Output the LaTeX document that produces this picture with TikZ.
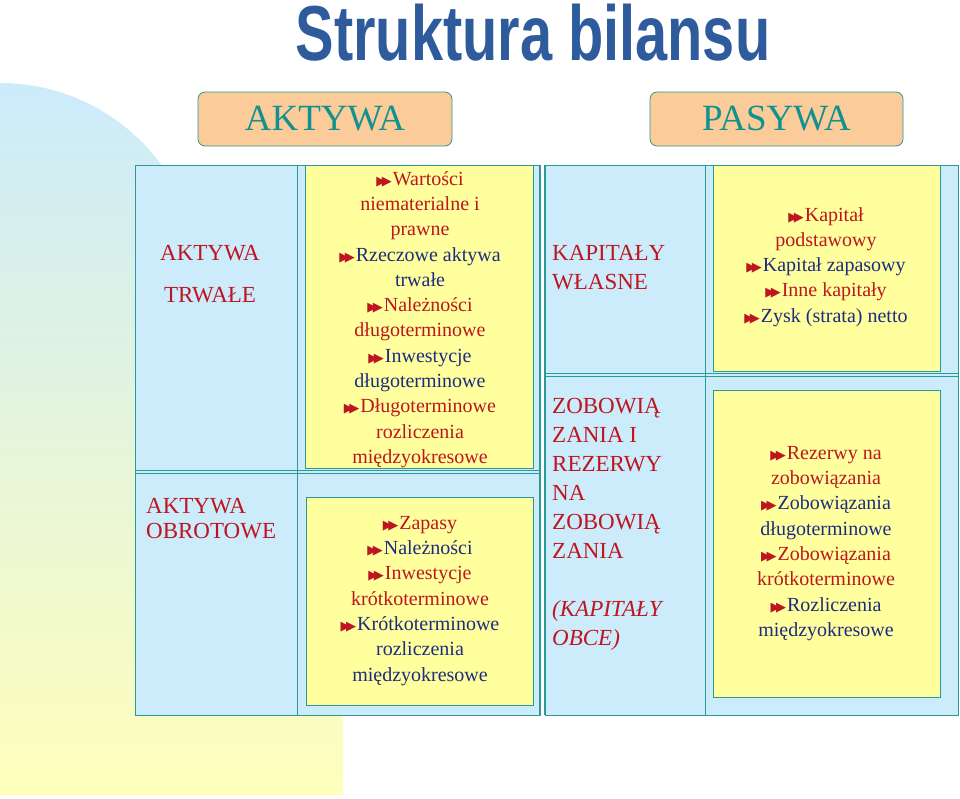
\documentclass[tikz,border=0pt]{standalone}
\usepackage{fontspec}
\setmainfont{Liberation Serif}
\newfontfamily\titlefont{Liberation Sans}
\newfontfamily\dejavu{DejaVu Sans}
\definecolor{tred}{HTML}{BE1620}
\definecolor{tblue}{HTML}{1C2C7E}
\definecolor{teal}{HTML}{2A9A94}
\definecolor{lblue}{HTML}{CCEBFB}
\definecolor{lyel}{HTML}{FFFF9E}
\definecolor{peach}{HTML}{FBCB99}
\definecolor{tgreen}{HTML}{12928E}
\definecolor{ttl}{HTML}{2E5B9C}
\newcommand{\bl}{{\color{tred}\dejavu\fontsize{13}{13}\selectfont ▶\kern-4.5pt▶\kern1pt}}
\newcommand{\R}{\color{tred}}
\newcommand{\B}{\color{tblue}}
\begin{document}
\begin{tikzpicture}[x=1pt,y=-1pt,
  cell/.style={draw=teal,line width=1pt,fill=lblue},
  ybox/.style={draw=teal,line width=1pt,fill=lyel},
  hdr/.style={draw=teal,line width=0.8pt,fill=peach,rounded corners=7pt},
  items/.style={align=center,inner sep=0pt,anchor=north,font=\fontsize{20}{25.3}\selectfont},
  lab/.style={align=left,inner sep=0pt,anchor=north west,text=tred,font=\fontsize{23}{29}\selectfont}]
\useasboundingbox (0,0) rectangle (960,798);
\shade[top color=lblue,bottom color=lyel!70]
  (0,795) -- (0,83) arc[start angle=270,end angle=360,radius=200] -- (343,283) -- (343,795) -- cycle;
\node[inner sep=0pt,text=ttl,font=\titlefont\bfseries\fontsize{78}{78}\selectfont,xscale=0.74] (title) at (533,33) {Struktura bilansu};
\node[hdr,minimum width=254pt,minimum height=54pt] (akt) at (325,119) {};
\node[text=tgreen,font=\fontsize{37}{37}\selectfont] (aktt) at (akt) {AKTYWA};
\node[hdr,minimum width=253pt,minimum height=54pt] (pas) at (776.5,119) {};
\node[text=tgreen,font=\fontsize{37}{37}\selectfont] (past) at (pas) {PASYWA};
% left table
\draw[cell] (135,165) rectangle (297,470);
\draw[cell] (135,470) rectangle (297,715);
\draw[cell] (297,165) rectangle (540,470);
\draw[cell] (297,470) rectangle (540,715);
\draw[teal,line width=1pt] (135,473) -- (540,473);
\draw[ybox] (305,165) rectangle (533,468);
\draw[ybox] (306,497) rectangle (533,705);
% right table
\draw[cell] (545,165) rectangle (705,373);
\draw[cell] (545,373) rectangle (705,715);
\draw[cell] (705,165) rectangle (958,373);
\draw[cell] (705,373) rectangle (958,715);
\draw[teal,line width=1pt] (545,376) -- (958,376);
\draw[ybox] (713,165) rectangle (940,371);
\draw[ybox] (713,390) rectangle (940,697);
\draw[teal,line width=2pt] (540,165) -- (540,715);
\draw[teal,line width=2pt] (545,165) -- (545,715);
% labels
\node[lab,align=center,anchor=north] (l1) at (210,245) {AKTYWA\\[13pt]TRWAŁE};
\node[lab] (l2) at (146,498) {AKTYWA\\[-4pt]OBROTOWE};
\node[lab] (l3) at (552,245) {KAPITAŁY\\WŁASNE};
\node[lab] (l4) at (552,398) {ZOBOWIĄ\\ZANIA I\\REZERWY\\NA\\ZOBOWIĄ\\ZANIA\\\\\textit{(KAPITAŁY}\\\textit{OBCE)}};
% items
\node[items] (i1) at (420,171) {%
\bl\R Wartości\\ \R niematerialne i\\ \R prawne\\
\bl\B Rzeczowe aktywa\\ \B trwałe\\
\bl\R Należności\\ \R długoterminowe\\
\bl\B Inwestycje\\ \B długoterminowe\\
\bl\R Długoterminowe\\ \R rozliczenia\\ \R międzyokresowe};
\node[items] (i2) at (420,516) {%
\bl\R Zapasy\\
\bl\B Należności\\
\bl\R Inwestycje\\ \R krótkoterminowe\\
\bl\B Krótkoterminowe\\ \B rozliczenia\\ \B międzyokresowe};
\node[items] (i3) at (826,207) {%
\bl\R Kapitał\\ \R podstawowy\\
\bl\B Kapitał zapasowy\\
\bl\R Inne kapitały\\
\bl\B Zysk (strata) netto};
\node[items] (i4) at (826,446) {%
\bl\R Rezerwy na\\ \R zobowiązania\\
\bl\B Zobowiązania\\ \B długoterminowe\\
\bl\R Zobowiązania\\ \R krótkoterminowe\\
\bl\B Rozliczenia\\ \B międzyokresowe};
\end{tikzpicture}
\end{document}
